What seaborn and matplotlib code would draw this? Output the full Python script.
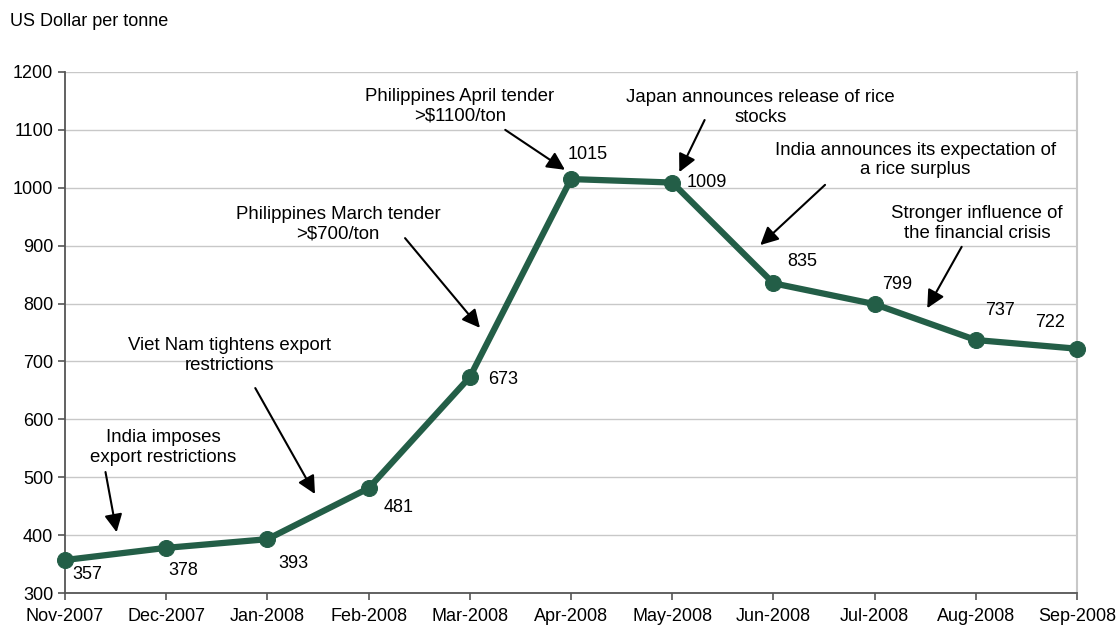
import pandas as pd
import numpy as np
import seaborn as sns
import matplotlib.pyplot as plt

# data: rice export price, US$ per tonne
bulan = ['Nov-2007', 'Dec-2007', 'Jan-2008', 'Feb-2008', 'Mar-2008', 'Apr-2008',
         'May-2008', 'Jun-2008', 'Jul-2008', 'Aug-2008', 'Sep-2008']
harga = [357, 378, 393, 481, 673, 1015, 1009, 835, 799, 737, 722]
y_ticks = [300, 400, 500, 600, 700, 800, 900, 1000, 1100, 1200]

# offset label angka (pixel) relatif ke titik
offset_label = [(22, -14), (17, -23), (26, -24), (30, -19), (33, -2), (17, 25),
                (35, 0), (29, 22), (23, 20), (24, 30), (-27, 26)]

# catatan kejadian: teks, posisi teks, ekor panah, ujung panah (koordinat data)
catatan = [
    ("India imposes\nexport restrictions", (0.97, 552), (0.40, 509), (0.51, 405)),
    ("Viet Nam tightens export\nrestrictions", (1.63, 711), (1.88, 654), (2.47, 471)),
    ("Philippines March tender\n>$700/ton", (2.70, 937), (3.36, 913), (4.10, 758)),
    ("Philippines April tender\n>$1100/ton", (3.90, 1141), (4.35, 1100), (4.94, 1031)),
    ("Japan announces release of rice\nstocks", (6.87, 1138), (6.32, 1117), (6.07, 1027)),
    ("India announces its expectation of\na rice surplus", (8.40, 1048), (7.51, 1005), (6.87, 901)),
    ("Stronger influence of\nthe financial crisis", (9.01, 939), (8.86, 898), (8.52, 792)),
]

df = pd.DataFrame({'bulan': bulan, 'harga': harga})

sns.set_style('white')
plt.rcParams['font.family'] = ['Liberation Sans', 'DejaVu Sans']
plt.rcParams['text.color'] = 'black'

hijau = '#235E47'
fig = plt.figure(figsize=(11.19, 6.28), dpi=100)
ax = fig.add_axes([0.0581, 0.0557, 0.9044, 0.8297])

sns.lineplot(data=df, x='bulan', y='harga', sort=False, ax=ax, color=hijau,
             linewidth=4.5, marker='o', markersize=11.5, markeredgecolor=hijau)
for ln in ax.lines:
    ln.set_clip_on(False)
    ln.set_zorder(5)

ax.set_xlim(0, len(bulan) - 1)
ax.set_ylim(300, 1200)
ax.set_yticks(y_ticks)
ax.set_xticks(range(len(bulan)))
ax.set_xticklabels(bulan)
ax.set_xlabel('')
ax.set_ylabel('')
ax.tick_params(axis='both', labelsize=13, labelcolor='black', length=5, width=1.2,
               direction='out', left=True, bottom=True, color='#555555')
ax.tick_params(axis='x', pad=6)

ax.grid(axis='y', color='#C8C8C8', linewidth=1)
ax.set_axisbelow(True)
for s in ['left', 'bottom']:
    ax.spines[s].set_color('#555555')
    ax.spines[s].set_linewidth(1.3)
ax.spines['right'].set_color('#C8C8C8')
ax.spines['right'].set_linewidth(1.5)
ax.spines['top'].set_visible(False)

# label angka
for i, v in enumerate(harga):
    ax.annotate(str(v), xy=(i, v), xytext=offset_label[i], textcoords='offset pixels',
                ha='center', va='center', fontsize=13, zorder=6)

# catatan dan panah
for teks, pos, ekor, ujung in catatan:
    ax.text(pos[0], pos[1], teks, ha='center', va='center', fontsize=13.4,
            linespacing=1.22, zorder=6)
    ax.annotate('', xy=ujung, xytext=ekor,
                arrowprops=dict(arrowstyle='-|>', color='black', lw=1.5,
                                mutation_scale=27, shrinkA=0, shrinkB=0))

fig.text(10 / 1119, 1 - 21 / 628, 'US Dollar per tonne', fontsize=13,
         ha='left', va='center')

fig.savefig('out.png', dpi=100)
